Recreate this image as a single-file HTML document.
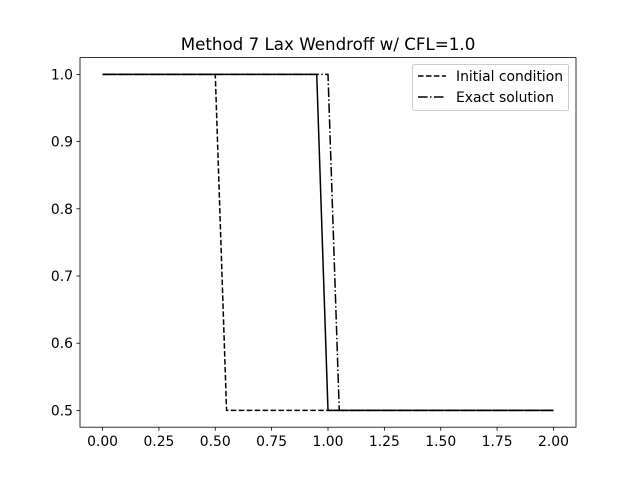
<!DOCTYPE html>
<html><head><meta charset="utf-8"><style>body{margin:0;background:#fff}svg{display:block}</style></head>
<body>
<svg id="c" width="640" height="480" xmlns="http://www.w3.org/2000/svg" font-family="DejaVu Sans, Liberation Sans, sans-serif"></svg>
<script>
const xs=[0,0.05,0.1,0.15,0.2,0.25,0.3,0.35,0.4,0.45,0.5,0.55,0.6,0.65,0.7,0.75,0.8,0.85,0.9,0.95,1.0,1.05,1.1,1.15,1.2,1.25,1.3,1.35,1.4,1.45,1.5,1.55,1.6,1.65,1.7,1.75,1.8,1.85,1.9,1.95,2.0];
const initialVals=[1,1,1,1,1,1,1,1,1,1,1,0.5,0.5,0.5,0.5,0.5,0.5,0.5,0.5,0.5,0.5,0.5,0.5,0.5,0.5,0.5,0.5,0.5,0.5,0.5,0.5,0.5,0.5,0.5,0.5,0.5,0.5,0.5,0.5,0.5,0.5];
const numericalVals=[1,1,1,1,1,1,1,1,1,1,1,1,1,1,1,1,1,1,1,1,0.5,0.5,0.5,0.5,0.5,0.5,0.5,0.5,0.5,0.5,0.5,0.5,0.5,0.5,0.5,0.5,0.5,0.5,0.5,0.5,0.5];
const exactVals=[1,1,1,1,1,1,1,1,1,1,1,1,1,1,1,1,1,1,1,1,1,0.5,0.5,0.5,0.5,0.5,0.5,0.5,0.5,0.5,0.5,0.5,0.5,0.5,0.5,0.5,0.5,0.5,0.5,0.5,0.5];
const xTicks=[0,0.25,0.5,0.75,1.0,1.25,1.5,1.75,2.0];
const xTickLabels=["0.00","0.25","0.50","0.75","1.00","1.25","1.50","1.75","2.00"];
const yTicks=[0.5,0.6,0.7,0.8,0.9,1.0];
const yTickLabels=["0.5","0.6","0.7","0.8","0.9","1.0"];
const L=80,R=576,T=57.6,B=427.2;
const X=v=>L+(v+0.1)/2.2*(R-L);
const Y=v=>B-(v-0.475)/0.55*(B-T);
const svg=document.getElementById('c');const NS='http://www.w3.org/2000/svg';
function mk(t,a,p){const e=document.createElementNS(NS,t);for(const k in a)e.setAttribute(k,a[k]);(p||svg).appendChild(e);return e;}
let e=mk('text',{x:328,y:50,'text-anchor':'middle','font-size':16.7});e.textContent='Method 7 Lax Wendroff w/ CFL=1.0';


function line(vals,dash,name){const d=xs.map((x,i)=>(i?'L':'M')+X(x).toFixed(2)+','+Y(vals[i]).toFixed(2)).join('');
const p=mk('path',{d:d,fill:'none',stroke:'#000','stroke-width':1.5,'stroke-dasharray':dash});

}
line(initialVals,'5.55,2.4','initial-condition-line');
line(numericalVals,'none','numerical-solution-line');
line(exactVals,'9.6,2.4,1.5,2.4','exact-solution-line');
e=mk('rect',{x:L,y:T,width:R-L,height:B-T,fill:'none',stroke:'#000','stroke-width':0.8});


xTicks.forEach((v,i)=>{mk('line',{x1:X(v),x2:X(v),y1:B,y2:B+3.5,stroke:'#000','stroke-width':0.8});
const t=mk('text',{x:X(v),y:B+19,'text-anchor':'middle','font-size':13.9});t.textContent=xTickLabels[i];

});
yTicks.forEach((v,i)=>{mk('line',{x1:L-3.5,x2:L,y1:Y(v),y2:Y(v),stroke:'#000','stroke-width':0.8});
const t=mk('text',{x:L-7,y:Y(v)+5,'text-anchor':'end','font-size':13.9});t.textContent=yTickLabels[i];

});
const g=mk('g',{});


mk('rect',{x:412.5,y:64.5,width:156,height:46,rx:2,fill:'#fff','fill-opacity':0.8,stroke:'#ccc'},g);
mk('line',{x1:418,x2:446,y1:76,y2:76,stroke:'#000','stroke-width':1.5,'stroke-dasharray':'5.55,2.4'},g);
mk('line',{x1:418,x2:446,y1:97,y2:97,stroke:'#000','stroke-width':1.5,'stroke-dasharray':'9.6,2.4,1.5,2.4'},g);
e=mk('text',{x:456,y:81,'font-size':13.9},g);e.textContent='Initial condition';


e=mk('text',{x:456,y:102,'font-size':13.9},g);e.textContent='Exact solution';


</script>
</body></html>
